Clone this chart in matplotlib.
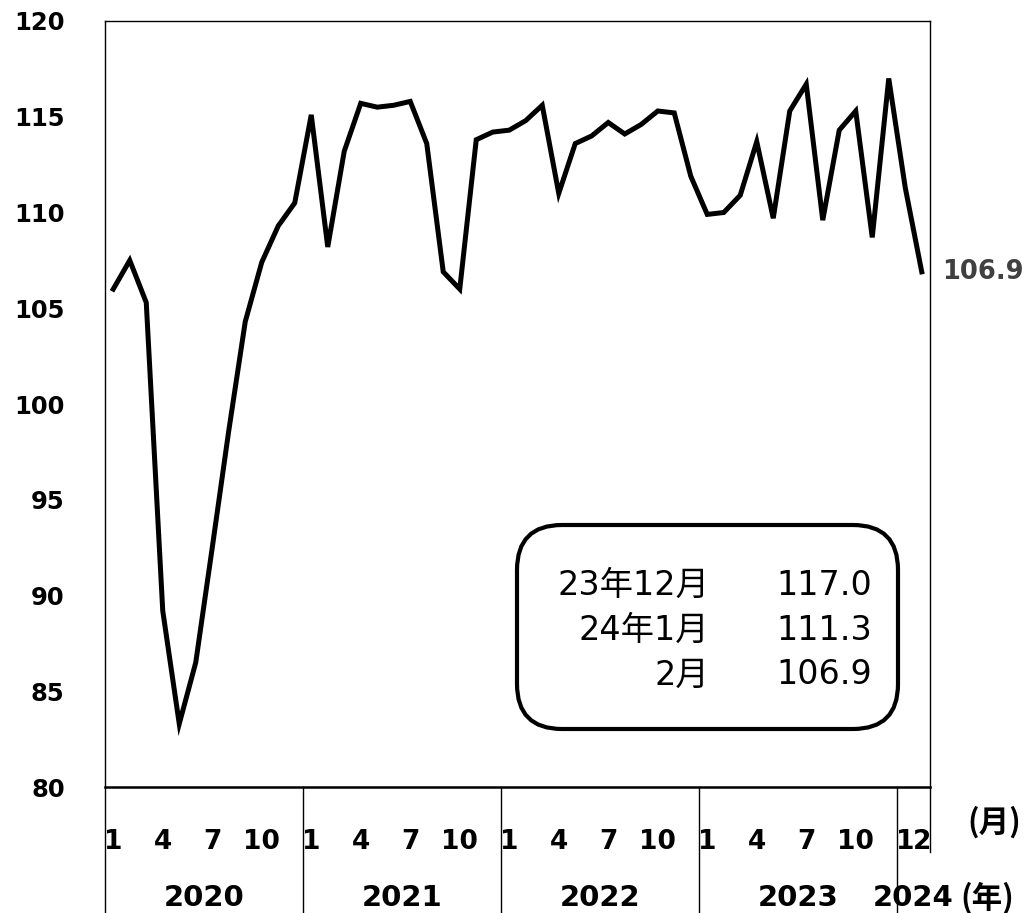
import matplotlib
matplotlib.use('Agg')
import matplotlib.pyplot as plt
from matplotlib.patches import FancyBboxPatch
import matplotlib.transforms as mtransforms

plt.rcParams['font.family'] = ['DejaVu Sans', 'Noto Sans CJK JP']

# 月次データ 2020年1月～2024年2月
v2020 = [106.0, 107.5, 105.3, 89.2, 83.3, 86.5, 92.5, 98.6, 104.3, 107.4, 109.3, 110.5]
v2021 = [115.1, 108.2, 113.2, 115.7, 115.5, 115.6, 115.8, 113.6, 106.9, 106.0, 113.8, 114.2]
v2022 = [114.3, 114.8, 115.6, 111.0, 113.6, 114.0, 114.7, 114.1, 114.6, 115.3, 115.2, 111.9]
v2023 = [109.9, 110.0, 110.9, 113.7, 109.7, 115.3, 116.7, 109.6, 114.3, 115.3, 108.7, 117.0]
v2024 = [111.3, 106.9]
years = ['2020', '2021', '2022', '2023', '2024']
month_ticks = [1, 4, 7, 10]
box_labels = ['23年12月', '24年1月', '2月']
box_values = ['117.0', '111.3', '106.9']

values = v2020 + v2021 + v2022 + v2023 + v2024
blocks = [v2020, v2021, v2022, v2023, v2024]

W, H = 1027, 913
fig = plt.figure(figsize=(W / 100, H / 100), dpi=100)
ax = fig.add_axes([105 / W, 1 - 787 / H, 825 / W, 766 / H])

x = list(range(len(values)))
ax.plot(x, values, color='black', lw=3.6, solid_joinstyle='miter', zorder=3)

ax.set_xlim(-0.5, len(values) - 0.5)
ax.set_ylim(80, 120)
ax.set_yticks(range(80, 121, 5))
ax.tick_params(axis='y', length=0, pad=29, labelsize=17.5)
for lbl in ax.get_yticklabels():
    lbl.set_fontweight('bold')

# 月ラベル
pos, labs = [], []
start = 0
for yi, b in enumerate(blocks):
    for m in range(1, len(b) + 1):
        if m in month_ticks or years[yi] == '2024':
            pos.append(start + m - 1)
            labs.append(str(m))
    start += len(b)
ax.set_xticks(pos, labs)
ax.tick_params(axis='x', length=0, pad=30, labelsize=19)
for lbl in ax.get_xticklabels():
    lbl.set_fontweight('bold')

for s in ['left', 'right', 'top']:
    ax.spines[s].set_linewidth(1.0)
ax.spines['bottom'].set_linewidth(1.8)

# 年の区切り線と年ラベル
trans = mtransforms.blended_transform_factory(ax.transData, ax.transAxes)
bottom_y = -(H - 787) / 766
row_y = -(852 - 787) / 766
start = 0
for yi, b in enumerate(blocks):
    ax.plot([start - 0.5, start - 0.5], [0, bottom_y], transform=trans,
            color='black', lw=1.0, clip_on=False)
    ax.text(start + (len(b) - 1) / 2, -(898 - 787) / 766, years[yi],
            transform=trans, ha='center', va='center',
            fontsize=21, fontweight='bold')
    start += len(b)
ax.plot([start - 0.5, start - 0.5], [0, row_y], transform=trans,
        color='black', lw=1.0, clip_on=False)

fig.text(967 / W, 1 - 822 / H, '(月)', ha='left', va='center',
         fontsize=22, fontweight='bold', family=['Noto Sans CJK JP'])
fig.text(960 / W, 1 - 898 / H, '(年)', ha='left', va='center',
         fontsize=22, fontweight='bold', family=['Noto Sans CJK JP'])

# 最新値
ax.annotate(f'{values[-1]:.1f}', xy=(x[-1], values[-1]), xytext=(15, 0),
            textcoords='offset points', ha='left', va='center',
            fontsize=18.5, fontweight='bold', color='#404040',
            annotation_clip=False)

# 注記ボックス
box = FancyBboxPatch((5.17, 1.84), 3.81, 2.04,
                     boxstyle='round,pad=0,rounding_size=0.45',
                     transform=fig.dpi_scale_trans, fc='white', ec='black',
                     lw=3.0, zorder=5)
fig.patches.append(box)
for i, (lb, vl) in enumerate(zip(box_labels, box_values)):
    yy = 1 - (585 + 45 * i) / H
    fig.text(709 / W, yy, lb, ha='right', va='center', fontsize=24,
             zorder=6)
    fig.text(872 / W, yy, vl, ha='right', va='center', fontsize=24,
             zorder=6)

fig.savefig('out.png', dpi=100)
